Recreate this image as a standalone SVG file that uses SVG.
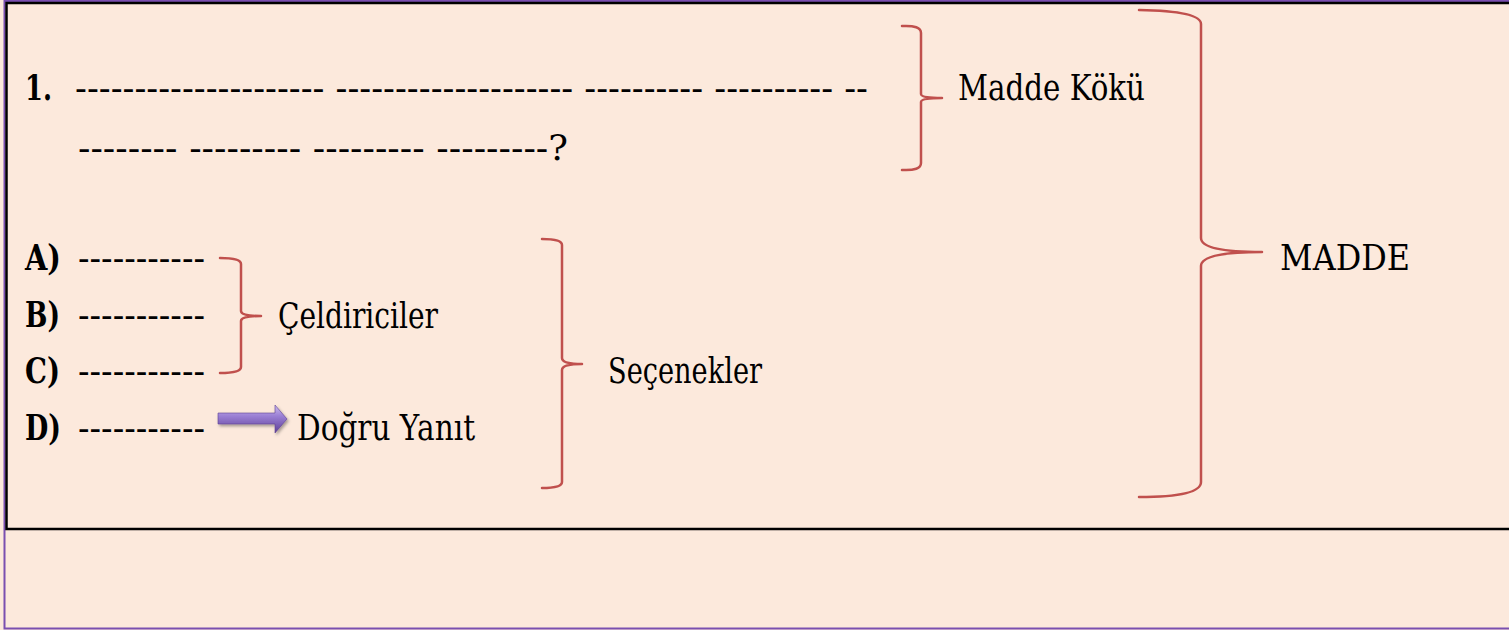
<svg xmlns="http://www.w3.org/2000/svg" width="1509" height="630" viewBox="0 0 1509 630">
<defs>
<style>
.t{font-family:'DejaVu Serif','Liberation Serif',serif;font-size:35px;fill:#000}
.b{font-weight:bold}
.brace{fill:none;stroke:#C0504D;stroke-width:2.5;stroke-linecap:round;stroke-linejoin:round}
</style>
<linearGradient id="ag" x1="0" y1="0" x2="0" y2="1">
<stop offset="0" stop-color="#CDBBEE"/>
<stop offset="0.4" stop-color="#9A7FD4"/>
<stop offset="1" stop-color="#5E3F96"/>
</linearGradient>
<filter id="sh" x="-20%" y="-40%" width="150%" height="200%">
<feDropShadow dx="1.5" dy="2" stdDeviation="1.5" flood-color="#000" flood-opacity="0.35"/>
</filter>
</defs>
<rect x="0" y="0" width="1509" height="630" fill="#FCE9DC"/>
<rect x="4.5" y="1" width="1510" height="627.5" fill="#FCE9DC" stroke="#7A4FB0" stroke-width="2"/>
<rect x="6.5" y="3" width="1510" height="526" fill="none" stroke="#000" stroke-width="2.5"/>

<g id="stem">
<text class="t b" x="25" y="100" textLength="27" lengthAdjust="spacingAndGlyphs">1.</text>
<text class="t" x="75" y="100" textLength="793" lengthAdjust="spacingAndGlyphs">--------------------- -------------------- ---------- ---------- --</text>
<text class="t" x="78" y="160" textLength="490" lengthAdjust="spacingAndGlyphs">-------- --------- --------- ---------?</text>
</g>
<g id="options">
<text class="t b" x="25" y="270" textLength="36" lengthAdjust="spacingAndGlyphs">A)</text>
<text class="t" x="78" y="270" textLength="127" lengthAdjust="spacingAndGlyphs">-----------</text>
<text class="t b" x="25" y="327" textLength="35" lengthAdjust="spacingAndGlyphs">B)</text>
<text class="t" x="78" y="327" textLength="127" lengthAdjust="spacingAndGlyphs">-----------</text>
<text class="t b" x="25" y="383" textLength="35" lengthAdjust="spacingAndGlyphs">C)</text>
<text class="t" x="78" y="383" textLength="127" lengthAdjust="spacingAndGlyphs">-----------</text>
<text class="t b" x="25" y="440" textLength="36" lengthAdjust="spacingAndGlyphs">D)</text>
<text class="t" x="78" y="440" textLength="127" lengthAdjust="spacingAndGlyphs">-----------</text>
</g>
<g id="label-madde-koku"><text class="t" x="958" y="100" textLength="187" lengthAdjust="spacingAndGlyphs">Madde Kökü</text></g>
<g id="label-madde"><text class="t" x="1280" y="270" textLength="130" lengthAdjust="spacingAndGlyphs">MADDE</text></g>
<g id="label-celdiriciler"><text class="t" x="278" y="328" textLength="160" lengthAdjust="spacingAndGlyphs">Çeldiriciler</text></g>
<g id="label-secenekler"><text class="t" x="608" y="383" textLength="154" lengthAdjust="spacingAndGlyphs">Seçenekler</text></g>
<g id="label-dogru-yanit"><text class="t" x="297" y="440" textLength="178" lengthAdjust="spacingAndGlyphs">Doğru Yanıt</text></g>

<g id="connectors">
<path class="brace" d="M902,26 Q921,25 921,33 L921,94 Q921,98 942,98 Q921,98 921,102 L921,163 Q921,171 902,170"/>
<path class="brace" d="M1139,10 Q1201,11 1201,24 L1201,238 Q1201,252 1262,252 Q1201,252 1201,266 L1201,482 Q1201,497 1139,497"/>
<path class="brace" d="M220,258 Q241,258 241,264 L241,311 Q241,316 261,316 Q241,316 241,321 L241,367 Q241,373 220,373"/>
<path class="brace" d="M542,239 Q562,239 562,245 L562,358 Q562,364 582,364 Q562,364 562,370 L562,482 Q562,488 542,488"/>
<path id="arrow" d="M218,413 L275,413 L275,405 L287,419 L275,433 L275,424 L218,424 Z" fill="url(#ag)" stroke="#5E3F96" stroke-width="0.6" filter="url(#sh)"/>
</g>
</svg>
